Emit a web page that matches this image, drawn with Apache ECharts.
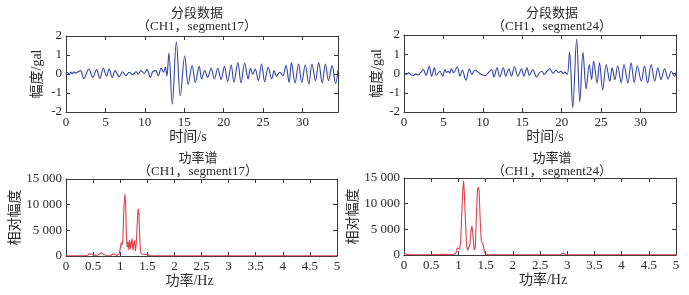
<!DOCTYPE html>
<html>
<head>
<meta charset="utf-8">
<script src="https://cdn.jsdelivr.net/npm/echarts@6/dist/echarts.min.js"></script>
<style>
html, body {margin: 0; padding: 0; background: #fff;}
#chart_1 {width: 689px; height: 295px;}
</style>
</head>
<body>
<div id="chart_1"></div>
<script>
//分段数据 [时间 s, 幅度 gal]
var seg17 = [[0,0],[0.2,0.08],[0.4,-0.05],[0.6,0.1],[0.8,0.02],[1.0,0.12],[1.2,0.05],[1.45,0.1],[1.83,0.18],[2.26,-0.23],
    [2.9,0.26],[3.4,-0.18],[3.88,0.23],[4.3,-0.23],[4.73,0.3],[5.16,-0.12],[5.46,0.26],[5.88,-0.18],[6.23,0.18],[6.74,-0.14],
    [7.17,0.12],[7.6,-0.09],[8.0,0.09],[8.45,-0.03],[8.87,0.12],[9.17,0],[9.5,0.18],[9.94,0.03],[10.28,0.23],[10.7,-0.18],
    [11.0,0.12],[11.4,0.18],[11.7,-0.09],[12.07,0.3],[12.37,0.09],[12.6,0.35],[12.8,-0.1],[13.05,1.1],[13.48,-1.58],[14.0,1.7],
    [14.5,-1.15],[15.06,0.95],[15.5,-0.55],[16.0,0.45],[16.4,-0.44],[16.9,0.4],[17.2,-0.26],[17.6,0.18],[17.97,-0.18],[18.4,0.3],
    [18.82,-0.26],[19.25,0.3],[19.67,-0.3],[20.1,0.4],[20.5,-0.4],[20.95,0.47],[21.3,-0.44],[21.8,0.6],[22.2,-0.47],[22.66,0.58],
    [23.1,-0.26],[23.4,0.3],[23.7,0],[24.0,0.26],[24.4,-0.35],[24.8,0.53],[25.2,-0.4],[25.65,0.35],[26.1,-0.26],[26.4,0.18],
    [26.7,-0.12],[27.1,0.09],[27.5,-0.09],[27.9,0.44],[28.3,-0.44],[28.6,0.6],[29.05,-0.47],[29.5,0.53],[29.9,-0.44],[30.35,0.47],
    [30.8,-0.53],[31.2,0.53],[31.65,-0.35],[32.05,0.6],[32.5,-0.47],[32.9,0.53],[33.3,-0.35],[33.75,0.44],[34.2,-0.5],[34.5,0.2]];

var seg24 = [[0,0.05],[0.3,-0.05],[0.6,0.03],[0.9,-0.08],[1.2,-0.1],[1.5,-0.02],[1.8,-0.08],[2.1,0.04],[2.45,0.21],[2.8,-0.1],
    [3.2,0.39],[3.5,-0.14],[3.85,0.3],[4.1,-0.1],[4.56,0.12],[4.9,-0.14],[5.2,0.21],[5.4,0.05],[5.6,0.12],[5.8,0.02],
    [6.0,0.25],[6.3,0.04],[6.75,0.35],[7.1,-0.14],[7.4,0.18],[7.85,-0.35],[8.3,0.25],[8.6,-0.05],[9.0,0.18],[9.4,0.07],
    [9.85,-0.05],[10.3,-0.1],[10.7,0.04],[11.1,0.21],[11.4,-0.18],[11.8,0.3],[12.15,-0.18],[12.6,0.3],[12.9,-0.14],[13.3,0.25],
    [13.65,-0.14],[14.0,0.35],[14.45,-0.14],[14.9,0.25],[15.2,-0.14],[15.6,0.3],[15.9,-0.1],[16.35,0.21],[16.8,-0.18],[17.2,0.05],
    [17.5,0.12],[17.8,-0.05],[18.1,0.1],[18.5,0.25],[18.9,0],[19.3,0.18],[19.6,0.04],[19.9,0.12],[20.2,0],[20.4,0.07],
    [20.7,-0.05],[21.0,1.12],[21.4,-1.78],[21.9,1.79],[22.3,-1.46],[22.7,1.1],[23.1,-0.8],[23.5,0.47],[23.8,-0.32],[24.05,0.65],
    [24.5,-0.49],[24.8,0.56],[25.2,-0.85],[25.65,0.47],[26.1,-0.4],[26.4,0.3],[26.75,-0.32],[27.1,0.39],[27.55,-0.49],[27.9,0.47],
    [28.4,-0.49],[28.8,0.56],[29.2,-0.46],[29.6,0.39],[30.1,-0.4],[30.5,0.39],[30.9,-0.49],[31.35,0.47],[31.8,-0.4],[32.2,0.3],
    [32.6,-0.32],[33.05,0.25],[33.5,-0.28],[33.9,0.12],[34.3,-0.14],[34.5,0.05]];

//功率谱 [频率 Hz, 相对幅度]
var spec17 = [[0,50],[0.1,40],[0.2,60],[0.3,50],[0.38,80],[0.43,450],[0.46,120],[0.5,250],[0.55,100],[0.6,250],
    [0.65,650],[0.7,250],[0.75,80],[0.82,60],[0.87,450],[0.9,200],[0.94,80],[0.98,400],[1.0,1400],[1.02,2600],
    [1.035,2200],[1.05,3200],[1.065,8500],[1.085,12000],[1.1,10500],[1.115,3800],[1.13,1700],[1.145,2800],[1.16,1200],[1.175,3100],
    [1.19,1400],[1.205,2500],[1.22,3400],[1.235,1100],[1.25,2400],[1.265,3000],[1.28,1000],[1.295,2200],[1.31,5500],[1.33,9200],
    [1.345,8600],[1.36,3500],[1.375,900],[1.39,400],[1.42,200],[1.45,350],[1.48,100],[1.51,250],[1.55,60],[1.7,40],
    [2.0,50],[2.5,40],[3.0,50],[3.5,40],[4.0,50],[4.5,40],[5.0,50]];

var spec24 = [[0,350],[0.02,450],[0.05,150],[0.1,60],[0.3,50],[0.5,60],[0.7,120],[0.72,60],[0.85,80],[0.92,150],
    [0.96,500],[0.98,1400],[1.0,1600],[1.02,1100],[1.04,2500],[1.06,7500],[1.08,12500],[1.095,14500],[1.11,12000],[1.13,6500],
    [1.15,2000],[1.17,900],[1.19,700],[1.21,2000],[1.235,5000],[1.25,5600],[1.27,3500],[1.29,900],[1.31,1500],[1.33,7500],
    [1.35,12500],[1.365,13200],[1.38,12600],[1.4,7000],[1.42,2800],[1.44,2600],[1.46,1800],[1.48,600],[1.5,200],[1.55,80],
    [2.0,50],[2.5,40],[2.88,60],[2.93,380],[2.98,60],[3.5,40],[4.0,50],[4.5,40],[5.0,50]];

var titles = ['分段数据\n（CH1，segment17）', '分段数据\n（CH1，segment24）', '功率谱\n（CH1，segment17）', '功率谱\n（CH1，segment24）'];

var font = "'Liberation Serif', 'Noto Sans CJK SC', serif";
var txt = '#2a2a2a';
var axisColor = '#3a3a3a';

var grids = [
    {left: 66, top: 36, width: 272, height: 76},
    {left: 404, top: 35, width: 272, height: 77},
    {left: 66, top: 179, width: 271, height: 77},
    {left: 404, top: 178, width: 272, height: 77}
];

function thousands(v) {
    return String(v).replace(/\B(?=(\d{3})+(?!\d))/g, ' ');
}

var xAxis = [];
var yAxis = [];
//x: [max, interval, name, name shift]
var xSet = [[34.5, 5, '时间/s', -14], [34.5, 5, '时间/s', 5], [5, 0.5, '功率/Hz', -12], [5, 0.5, '功率/Hz', 3]];
//y: [min, max, interval, name, gap]
var ySet = [[-2, 2, 1, '幅度/gal', 22], [-2, 2, 1, '幅度/gal', 20], [0, 15000, 5000, '相对幅度', 42], [0, 15000, 5000, '相对幅度', 42]];

for (var i = 0; i < 4; i++) {
    var xs = xSet[i], ys = ySet[i];
    var common = {
        gridIndex: i,
        type: 'value',
        splitLine: {show: false},
        axisLine: {onZero: false, lineStyle: {color: axisColor, width: 1}},
        axisTick: {inside: true, length: 4, lineStyle: {color: axisColor}}
    };
    var sh = xs[3];
    xAxis.push(Object.assign({}, common, {
        position: 'bottom', min: 0, max: xs[0], interval: xs[1],
        name: xs[2], nameLocation: 'middle', nameGap: 18,
        nameTextStyle: {color: txt, fontFamily: font, fontSize: 14,
            padding: sh < 0 ? [0, -2 * sh, 0, 0] : [0, 0, 0, 2 * sh]},
        axisLabel: {color: txt, fontFamily: font, fontSize: 13, margin: 4, showMaxLabel: xs[0] === 5}
    }));
    xAxis.push(Object.assign({}, common, {
        position: 'top', min: 0, max: xs[0], interval: xs[1], axisLabel: {show: false}
    }));
    yAxis.push(Object.assign({}, common, {
        position: 'left', min: ys[0], max: ys[1], interval: ys[2],
        name: ys[3], nameLocation: 'middle', nameGap: ys[4],
        nameTextStyle: {color: txt, fontFamily: font, fontSize: 14},
        axisLabel: {color: txt, fontFamily: font, fontSize: 13, margin: 4, formatter: i > 1 ? thousands : null}
    }));
    yAxis.push(Object.assign({}, common, {
        position: 'right', min: ys[0], max: ys[1], interval: ys[2], axisLabel: {show: false}
    }));
}

var titleCenter = [[192, 2], [547, 2], [193, 147], [547, 147]];
var title = titles.map(function (t, k) {
    return {
        text: t, left: titleCenter[k][0], top: titleCenter[k][1], textAlign: 'center',
        textStyle: {color: txt, fontFamily: font, fontSize: 13, fontWeight: 'normal', lineHeight: 13}
    };
});

var lineData = [seg17, seg24, spec17, spec24];
var series = lineData.map(function (d, k) {
    return {
        type: 'line',
        xAxisIndex: 2 * k,
        yAxisIndex: 2 * k,
        data: d,
        showSymbol: false,
        smooth: k < 2 ? 0.35 : false,
        lineStyle: {width: 1.1, color: k < 2 ? '#3342a3' : '#e0414b'},
        silent: true
    };
});

var myChart = echarts.init(document.getElementById('chart_1'));
myChart.setOption({
    animation: false,
    backgroundColor: '#fff',
    title: title,
    grid: grids,
    xAxis: xAxis,
    yAxis: yAxis,
    series: series
});
</script>
</body>
</html>
